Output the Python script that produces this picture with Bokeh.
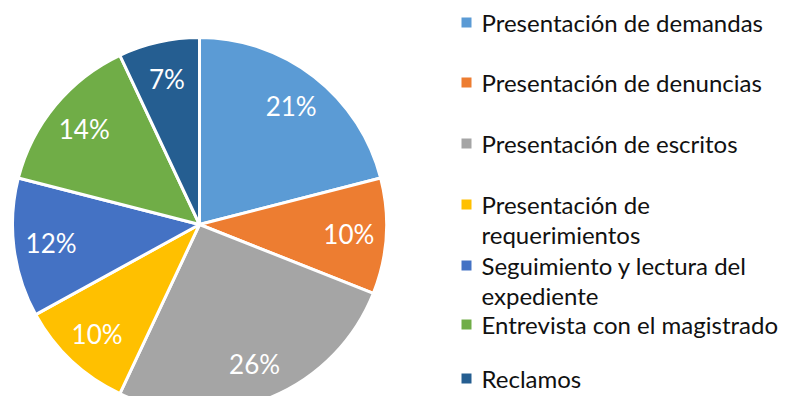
import math
from bokeh.plotting import figure
from bokeh.models import Range1d, ColumnDataSource
from bokeh.core.properties import value
from bokeh.embed import file_html
from bokeh.resources import INLINE

categories = ["Presentación de demandas", "Presentación de denuncias", "Presentación de escritos",
              "Presentación de requerimientos", "Seguimiento y lectura del expediente",
              "Entrevista con el magistrado", "Reclamos"]
shares = [21, 10, 26, 10, 12, 14, 7]
colors = ["#5B9BD5", "#ED7D31", "#A5A5A5", "#FFC000", "#4472C4", "#70AD47", "#255E91"]
legend_lines = [["Presentación de demandas"], ["Presentación de denuncias"], ["Presentación de escritos"],
                ["Presentación de", "requerimientos"], ["Seguimiento y lectura del", "expediente"],
                ["Entrevista con el magistrado"], ["Reclamos"]]

W, H = 784, 396
FONT = "Lato"

def sy(y):
    return H - y  # screen y -> data y

p = figure(width=W, height=H, output_backend="svg", toolbar_location=None,
           x_range=Range1d(0, W), y_range=Range1d(0, H), min_border=0)
p.axis.visible = False
p.grid.visible = False
p.outline_line_color = None
p.background_fill_color = "white"
p.border_fill_color = "white"

cx, cy, R = 199, 224, 187
total = sum(shares)
starts, ends, lx, ly, labels = [], [], [], [], []
cum = 0
for s in shares:
    a0 = math.pi / 2 - 2 * math.pi * cum / total
    cum += s
    a1 = math.pi / 2 - 2 * math.pi * cum / total
    starts.append(a0)
    ends.append(a1)
    mid = (a0 + a1) / 2
    lx.append(cx + 0.8 * R * math.cos(mid))
    ly.append(sy(cy) + 0.8 * R * math.sin(mid))
    labels.append(f"{s}%")

src = ColumnDataSource(dict(start=starts, end=ends, color=colors))
p.wedge(x=cx, y=sy(cy), radius=R, start_angle="start", end_angle="end", direction="clock",
        fill_color="color", line_color="white", line_width=3, source=src)
p.text(x=lx, y=ly, text=labels, text_color="white", text_font=value(FONT),
       text_font_size="26px", text_align="center", text_baseline="middle")

row_y = [22, 82, 143, 204, 265, 324, 378]
mx, tx, lh = 466, 481, 30
sq_x, sq_y, sq_c, t_x, t_y, t_t = [], [], [], [], [], []
for i, lines in enumerate(legend_lines):
    sq_x.append(mx)
    sq_y.append(sy(row_y[i]))
    sq_c.append(colors[i])
    for j, ln in enumerate(lines):
        t_x.append(tx)
        t_y.append(sy(row_y[i] + j * lh))
        t_t.append(ln)
p.rect(x=sq_x, y=sq_y, width=10, height=10, fill_color=sq_c, line_color=None)
p.text(x=t_x, y=t_y, text=t_t, text_color="#111111", text_font=value(FONT),
       text_font_size="24px", text_align="left", text_baseline="middle")

open("out.html", "w").write(file_html(p, INLINE))
